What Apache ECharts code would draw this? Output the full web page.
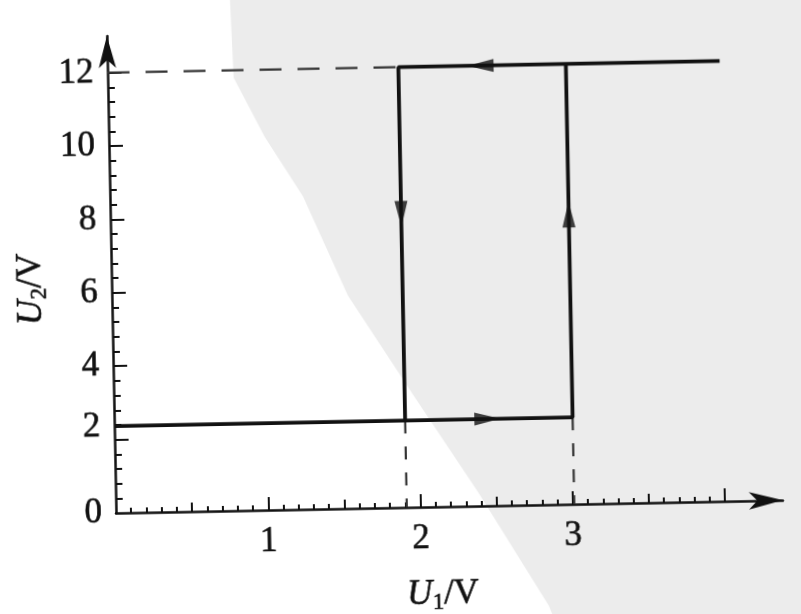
<!DOCTYPE html>
<html>
<head>
<meta charset="utf-8">
<script src="https://cdn.jsdelivr.net/npm/echarts@6/dist/echarts.min.js"></script>
<style>
  html, body { margin: 0; padding: 0; width: 801px; height: 614px; overflow: hidden; background: #fff; }
  #chart {
    position: absolute; left: -20px; top: -20px; width: 841px; height: 654px;
    transform-origin: 136px 533px; transform: rotate(-1.1deg);
  }
</style>
</head>
<body>
<div id="chart"></div>
<script>
// Schmitt-trigger style transfer characteristic U2 vs U1 (hysteresis loop)
const lowLevel = 2.37;       // output low level, V
const highLevel = 12;        // output high level, V
const upperThreshold = 3.01; // U1 where output switches low -> high
const lowerThreshold = 1.91; // U1 where output switches high -> low
const inputEnd = 4.02;

// rising path: along the low level, then jump up at the upper threshold
const risingPath = [[0, lowLevel], [upperThreshold, lowLevel], [upperThreshold, highLevel]];
// falling path: along the high level, then drop at the lower threshold
const fallingPath = [[inputEnd, highLevel], [lowerThreshold, highLevel], [lowerThreshold, lowLevel]];

// dashed guide lines to the axes
const guideHigh = [[0, highLevel], [lowerThreshold, highLevel]];
const guideLower = [[lowerThreshold, lowLevel], [lowerThreshold, 0]];
const guideUpper = [[upperThreshold, lowLevel], [upperThreshold, 0]];

// direction arrows on the loop: [x, y, rotation]
const arrowMarks = [
  [2.45, highLevel, 90],
  [2.45, lowLevel, -90],
  [lowerThreshold, 8.0, 180],
  [upperThreshold, 7.9, 0]
];

const xLabelValues = [1, 2, 3];
const yLabelValues = [0, 2, 4, 6, 8, 10, 12];

// tick positions
const xMinorTicks = [], xMidTicks = [], xMajorTicks = [1, 2, 3, 4];
for (let i = 1; i <= 40; i++) xMinorTicks.push(+(i * 0.1).toFixed(1));
for (let i = 1; i <= 8; i++) xMidTicks.push(i * 0.5);
const yMinorTicks = [];
for (let i = 1; i <= 30; i++) yMinorTicks.push(+(i * 0.4).toFixed(1));
const yMajorTicks = [2, 4, 6, 8, 10, 12];

const ink = '#111';
const serif = '"Liberation Serif", "Times New Roman", serif';
const textBase = { fontFamily: serif, fontSize: 35, color: ink, textBorderColor: ink, textBorderWidth: 0.6 };

function nameRich() {
  return {
    i: Object.assign({}, textBase, { fontStyle: 'italic' }),
    s: Object.assign({}, textBase, { fontSize: 23, padding: [16, 0, 0, 0] }),
    n: Object.assign({}, textBase)
  };
}

function xAxisLayer(ticks, len, withLine) {
  return {
    type: 'value', min: 0, max: 4.38, position: 'bottom',
    axisLine: withLine ? {
      show: true, symbol: ['none', 'arrow'], symbolSize: [13, 34],
      lineStyle: { color: ink, width: 2.5 }
    } : { show: false },
    axisTick: { show: true, inside: true, length: len, customValues: ticks, lineStyle: { color: ink, width: 2 } },
    axisLabel: withLine ? Object.assign({ show: true, customValues: xLabelValues, margin: 14 }, textBase) : { show: false },
    splitLine: { show: false },
    name: withLine ? '{i|U}{s|1}{n|/V}' : '',
    nameLocation: 'middle', nameGap: 68,
    nameTextStyle: { padding: [0, 16, 0, 0], rich: nameRich() }
  };
}

function yAxisLayer(ticks, len, withLine) {
  return {
    type: 'value', min: 0, max: 13, position: 'left',
    axisLine: withLine ? {
      show: true, symbol: ['none', 'arrow'], symbolSize: [13, 32],
      lineStyle: { color: ink, width: 2.5 }
    } : { show: false },
    axisTick: { show: true, inside: true, length: len, customValues: ticks, lineStyle: { color: ink, width: 2 } },
    axisLabel: withLine ? Object.assign({
      show: true, customValues: yLabelValues, margin: 14,
      formatter: v => v === 2 ? '{lift|2}' : String(v),
      rich: { lift: Object.assign({}, textBase, { padding: [0, 0, 26, 0] }) }
    }, textBase) : { show: false },
    splitLine: { show: false },
    name: withLine ? '{i|U}{s|2}{n|/V}' : '',
    nameLocation: 'middle', nameGap: 52,
    nameTextStyle: { padding: [0, 26, 0, 0], rich: nameRich() }
  };
}

const chart = echarts.init(document.getElementById('chart'), null, { renderer: 'canvas' });

const solid = { color: ink, width: 3.8 };
const lineSeries = (data, style, z) => ({
  type: 'line', data, symbol: 'none', lineStyle: style, z: z || 3,
  xAxisIndex: 0, yAxisIndex: 0, animation: false, silent: true
});

chart.setOption({
  backgroundColor: '#fff',
  animation: false,
  graphic: [{
    type: 'polygon', z: -10, silent: true,
    shape: { points: [[258, -40], [262, 100], [292, 160], [329, 220], [372, 320], [435, 420], [499, 520], [567, 634], [592, 700], [900, 700], [900, -40]] },
    style: { fill: '#ececec' }
  }],
  grid: { left: 136, top: 56, right: 38, bottom: 121, containLabel: false, outerBoundsMode: 'none' },
  xAxis: [
    xAxisLayer(xMinorTicks, 5, true),
    xAxisLayer(xMidTicks, 9, false),
    xAxisLayer(xMajorTicks, 13, false)
  ],
  yAxis: [
    yAxisLayer(yMinorTicks, 7, true),
    yAxisLayer(yMajorTicks, 14, false)
  ],
  series: [
    lineSeries(guideHigh, { color: '#333', width: 2.2, type: [22, 16] }, 2),
    lineSeries(guideLower, { color: '#333', width: 2.2, type: [13, 13] }, 2),
    lineSeries(guideUpper, { color: '#333', width: 2.2, type: [13, 13] }, 2),
    lineSeries(risingPath, solid),
    lineSeries(fallingPath, solid),
    {
      type: 'scatter', xAxisIndex: 0, yAxisIndex: 0, z: 4, silent: true,
      symbol: 'triangle', symbolSize: [13, 26],
      itemStyle: { color: ink },
      data: arrowMarks.map(a => ({ value: [a[0], a[1]], symbolRotate: a[2] }))
    }
  ]
});
</script>
</body>
</html>
